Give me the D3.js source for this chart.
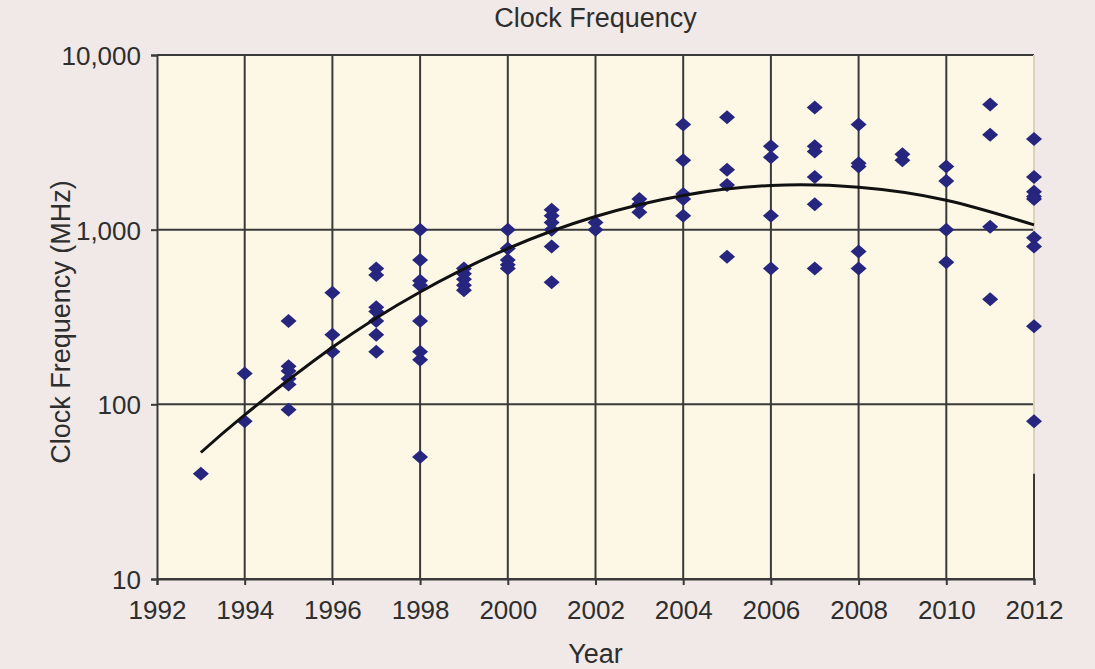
<!DOCTYPE html>
<html>
<head>
<meta charset="utf-8">
<script src="https://cdn.jsdelivr.net/npm/d3@7"></script>
<style>
  html, body { margin: 0; padding: 0; background: #f0e9e7; }
  svg { display: block; font-family: "Liberation Sans", Arial, sans-serif; }
</style>
</head>
<body>
<div id="chart"></div>
<script>
// data
var years = [1993, 1994, 1995, 1996, 1997, 1998, 1999, 2000, 2001, 2002,
             2003, 2004, 2005, 2006, 2007, 2008, 2009, 2010, 2011, 2012];
var clockMHz = [
    [40],
    [150, 80],
    [300, 165, 155, 140, 130, 93],
    [435, 250, 200],
    [600, 550, 360, 340, 300, 250, 200],
    [1000, 670, 510, 480, 300, 200, 180, 50],
    [600, 560, 520, 480, 450],
    [1000, 780, 670, 630, 600],
    [1300, 1200, 1100, 1000, 800, 500],
    [1100, 1000],
    [1500, 1400, 1260],
    [4000, 2500, 1600, 1500, 1200],
    [4400, 2200, 1800, 700],
    [3000, 2600, 1200, 600],
    [5000, 3000, 2800, 2000, 1400, 600],
    [4000, 2400, 2300, 750, 600],
    [2700, 2500],
    [2300, 1900, 1000, 650],
    [5200, 3500, 1040, 400],
    [3300, 2000, 1650, 1550, 1500, 900, 800, 280, 80]
];
// trend curve, read at a few years
var trendYears = [1993, 1994, 1996, 1998, 2000, 2002, 2004, 2006, 2008, 2010, 2012];
var trendMHz   = [53, 87, 212, 440, 780, 1190, 1570, 1790, 1750, 1475, 1065];

var xTicks = [1992, 1994, 1996, 1998, 2000, 2002, 2004, 2006, 2008, 2010, 2012];
var yTicks = [10, 100, 1000, 10000];

var width = 1095, height = 669;
var margin = { top: 55, right: 61, bottom: 90, left: 157 };
var iw = width - margin.left - margin.right;
var ih = height - margin.top - margin.bottom;

var svg = d3.select("#chart").append("svg")
    .attr("width", width)
    .attr("height", height);

var x = d3.scaleLinear().domain([1992, 2012]).range([0, iw]);
var y = d3.scaleLog().domain([10, 10000]).range([ih, 0]);

var g = svg.append("g")
    .attr("transform", "translate(" + margin.left + "," + margin.top + ")");

g.append("rect")
    .attr("width", iw)
    .attr("height", ih)
    .attr("fill", "#fdf8e6");

// grid
g.selectAll(".hgrid")
    .data(yTicks)
    .enter().append("line")
    .attr("x1", 0).attr("x2", iw)
    .attr("y1", function (d) { return y(d); })
    .attr("y2", function (d) { return y(d); })
    .attr("stroke", "#3a3a3a")
    .attr("stroke-width", 2);

g.selectAll(".vgrid")
    .data(xTicks.slice(1))
    .enter().append("line")
    .attr("x1", function (d) { return x(d); })
    .attr("x2", function (d) { return x(d); })
    .attr("y1", 0).attr("y2", ih)
    .attr("stroke", function (d) { return d === 2012 ? "#ddd0bc" : "#3a3a3a"; })
    .attr("stroke-width", 2);

// the last gridline is only dark near the bottom
g.append("line")
    .attr("x1", x(2012)).attr("x2", x(2012))
    .attr("y1", y(40)).attr("y2", ih)
    .attr("stroke", "#3a3a3a")
    .attr("stroke-width", 2);

// axes
var yAxis = d3.axisLeft(y)
    .tickValues(yTicks)
    .tickFormat(d3.format(","))
    .tickSize(6)
    .tickPadding(10);
var xAxis = d3.axisBottom(x)
    .tickValues(xTicks)
    .tickFormat(d3.format("d"))
    .tickSize(6)
    .tickPadding(16);

var ya = g.append("g").call(yAxis);
var xa = g.append("g").attr("transform", "translate(0," + ih + ")").call(xAxis);

[ya, xa].forEach(function (a) {
    a.select(".domain").attr("stroke", "#3a3a3a").attr("stroke-width", 2);
    a.selectAll(".tick line").attr("stroke", "#3a3a3a").attr("stroke-width", 2);
    a.selectAll(".tick text")
        .attr("fill", "#2e2e2e")
        .style("font-size", "26px")
        .style("font-family", "'Liberation Sans', Arial, sans-serif");
});
ya.selectAll(".tick text").attr("dy", "0.36em");

// trend line
var line = d3.line()
    .x(function (d) { return x(d[0]); })
    .y(function (d) { return y(d[1]); })
    .curve(d3.curveNatural);

// points
var pts = [];
years.forEach(function (yr, i) {
    clockMHz[i].forEach(function (v) { pts.push([yr, v]); });
});

g.selectAll(".pt")
    .data(pts)
    .enter().append("path")
    .attr("d", "M0,-7L8,0L0,7L-8,0Z")
    .attr("fill", "#26267f")
    .attr("transform", function (d) {
        return "translate(" + x(d[0]) + "," + y(d[1]) + ")";
    });

g.append("path")
    .datum(d3.zip(trendYears, trendMHz))
    .attr("d", line)
    .attr("fill", "none")
    .attr("stroke", "#111")
    .attr("stroke-width", 3);

// titles
svg.append("text")
    .attr("x", margin.left + iw / 2)
    .attr("y", 27)
    .attr("text-anchor", "middle")
    .attr("fill", "#2e2e2e")
    .style("font-size", "27px")
    .text("Clock Frequency");

svg.append("text")
    .attr("x", margin.left + iw / 2)
    .attr("y", 663)
    .attr("text-anchor", "middle")
    .attr("fill", "#2e2e2e")
    .style("font-size", "27px")
    .text("Year");

svg.append("text")
    .attr("transform", "translate(70," + (margin.top + ih / 2 + 5) + ")rotate(-90)")
    .attr("text-anchor", "middle")
    .attr("fill", "#2e2e2e")
    .style("font-size", "27px")
    .text("Clock Frequency (MHz)");
</script>
</body>
</html>
